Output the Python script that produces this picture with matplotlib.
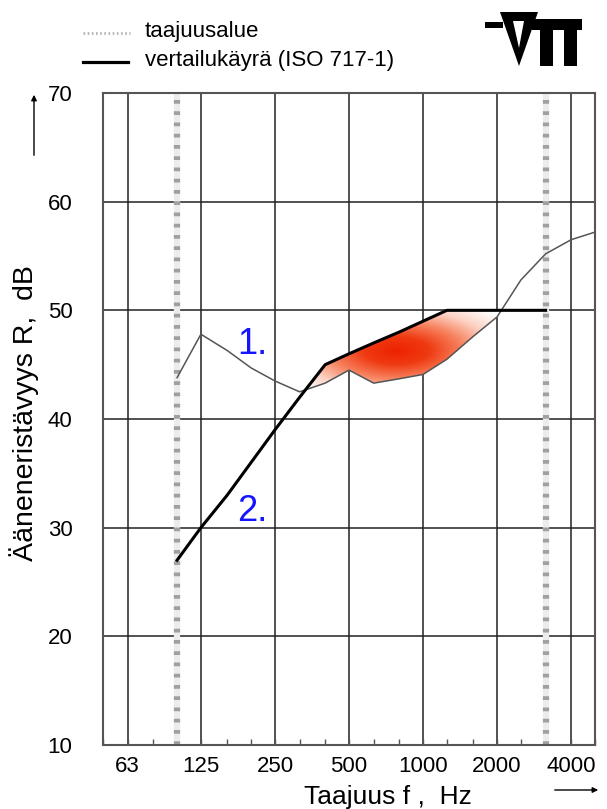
import matplotlib
matplotlib.use("Agg")
import matplotlib.pyplot as plt
import numpy as np
from matplotlib.colors import LinearSegmentedColormap
from matplotlib.patches import Polygon, Rectangle
from matplotlib.lines import Line2D

plt.rcParams['font.family'] = ['Liberation Sans', 'DejaVu Sans']

# third-octave bands, Hz
freqs = [100, 125, 160, 200, 250, 315, 400, 500, 630, 800, 1000,
         1250, 1600, 2000, 2500, 3150, 4000, 5000]
# measured sound reduction index R, dB (curve 1.)
measured = [43.8, 47.8, 46.3, 44.7, 43.5, 42.5, 43.3, 44.5, 43.3, 43.7, 44.1,
            45.5, 47.6, 49.4, 52.8, 55.2, 56.5, 57.2]
# shifted ISO 717-1 reference curve (curve 2.), 100...3150 Hz
ref_freqs = [100, 125, 160, 200, 250, 315, 400, 500, 630, 800, 1000,
             1250, 1600, 2000, 2500, 3150]
reference = [27, 30, 33, 36, 39, 42, 45, 46, 47, 48, 49, 50, 50, 50, 50, 50]

octaves = [63, 125, 250, 500, 1000, 2000, 4000]
octave_labels = ['63', '125', '250', '500', '1000', '2000', '4000']
third_octaves = [50, 63, 80, 100, 125, 160, 200, 250, 315, 400, 500, 630, 800,
                 1000, 1250, 1600, 2000, 2500, 3150, 4000, 5000]
band_limits = [100, 3150]
y_ticks = [10, 20, 30, 40, 50, 60, 70]

W, H = 607, 809
fig = plt.figure(figsize=(W / 100, H / 100), dpi=100)

# overlay in pixel coordinates for legend, logo and arrows
ov = fig.add_axes([0, 0, 1, 1], zorder=0)
ov.set_xlim(0, W)
ov.set_ylim(H, 0)
ov.axis('off')

ax = fig.add_axes([103 / W, 1 - 745 / H, 492 / W, 652 / H], zorder=1)
ax.set_xscale('log')
ax.set_xlim(50, 5000)
ax.set_ylim(10, 70)

for f in octaves:
    ax.axvline(f, color='#222222', lw=1.1, zorder=1)
for v in y_ticks[1:-1]:
    ax.axhline(v, color='#222222', lw=1.1, zorder=1)
for f in band_limits:
    ax.axvline(f, color='#ececec', lw=4.5, zorder=2)
    ax.axvline(f, color='#a0a0a0', lw=4.5, ls=(0, (0.6, 1.2)), zorder=2)

# shaded area of unfavourable deviations with radial gradient
m_ref = np.interp(np.log(ref_freqs), np.log(freqs), measured)
poly = ax.fill_between(ref_freqs, m_ref, reference, where=m_ref < reference,
                       interpolate=True, facecolor='none', edgecolor='none')
cmap = LinearSegmentedColormap.from_list('dev', ['#ffffff', '#fcd2c4', '#f7805c', '#ef3a12', '#ee2200'])
cx, cy = ax.transAxes.inverted().transform(ax.transData.transform((780, 46.3)))
nx, ny = 492, 652
gx, gy = np.meshgrid((np.arange(nx) + 0.5) / nx, (np.arange(ny) + 0.5) / ny)
r = np.sqrt(((gx - cx) * nx / 130.0) ** 2 + ((gy - cy) * ny / 55.0) ** 2)
val = np.clip(1 - r, 0, 1)
im = ax.imshow(val, extent=(0, 1, 0, 1), transform=ax.transAxes, origin='lower',
               cmap=cmap, vmin=0, vmax=1, aspect='auto', zorder=3,
               interpolation='bilinear')
im.set_clip_path(poly.get_paths()[0], ax.transData)

ax.plot(freqs, measured, color='#555555', lw=1.1, zorder=4)
ax.plot(ref_freqs, reference, color='black', lw=2.2, zorder=5)

ax.text(176, 46.9, '1.', color='#1414ff', fontsize=26, ha='left', va='center', zorder=6)
ax.text(176, 31.5, '2.', color='#1414ff', fontsize=26, ha='left', va='center', zorder=6)

ax.set_xlim(50, 5000)
ax.set_ylim(10, 70)
ax.set_xticks(octaves)
ax.set_xticklabels(octave_labels)
ax.set_xticks([f for f in third_octaves if f not in octaves], minor=True)
ax.xaxis.set_minor_formatter(plt.NullFormatter())
ax.tick_params(axis='x', which='both', direction='in', length=4, width=1,
               color='#555555', labelsize=16, pad=8)
ax.set_yticks(y_ticks)
ax.tick_params(axis='y', length=0, labelsize=16, pad=22)
for s in ax.spines.values():
    s.set_color('#555555')
    s.set_linewidth(1.5)

fig.text(24 / W, 1 - 413 / H, 'Ääneneristävyys R,  dB', rotation=90,
         ha='center', va='center', fontsize=20.5)
fig.text(388 / W, 1 - 797 / H, 'Taajuus f ,  Hz', ha='center', va='center', fontsize=19)

ov.annotate('', xy=(34, 92), xytext=(34, 158),
            arrowprops=dict(arrowstyle='-|>', color='black', lw=1, mutation_scale=8))
ov.annotate('', xy=(601, 790), xytext=(552, 790),
            arrowprops=dict(arrowstyle='-|>', color='black', lw=1, mutation_scale=8))

# legend
ov.add_line(Line2D([83, 130], [33, 33], color='#b5b5b5', lw=2, ls=(0, (0.6, 0.9))))
ov.add_line(Line2D([83, 128], [62, 62], color='black', lw=2.3))
ov.text(145, 31, 'taajuusalue', fontsize=16, va='center', ha='left')
ov.text(145, 60, 'vertailukäyrä (ISO 717-1)', fontsize=16, va='center', ha='left')

# VTT logo
ov.add_patch(Rectangle((485, 22), 18, 6, color='black', lw=0))
ov.add_patch(Polygon([(500, 12), (538, 12), (519, 66)], closed=True, color='black', lw=0))
ov.add_patch(Polygon([(513, 21), (524, 21), (519, 48)], closed=True, color='white', lw=0))
ov.add_patch(Rectangle((532, 19), 50, 11, color='black', lw=0))
ov.add_patch(Rectangle((540, 19), 13, 47, color='black', lw=0))
ov.add_patch(Rectangle((564, 19), 13, 47, color='black', lw=0))

fig.savefig('out.png', dpi=100)
